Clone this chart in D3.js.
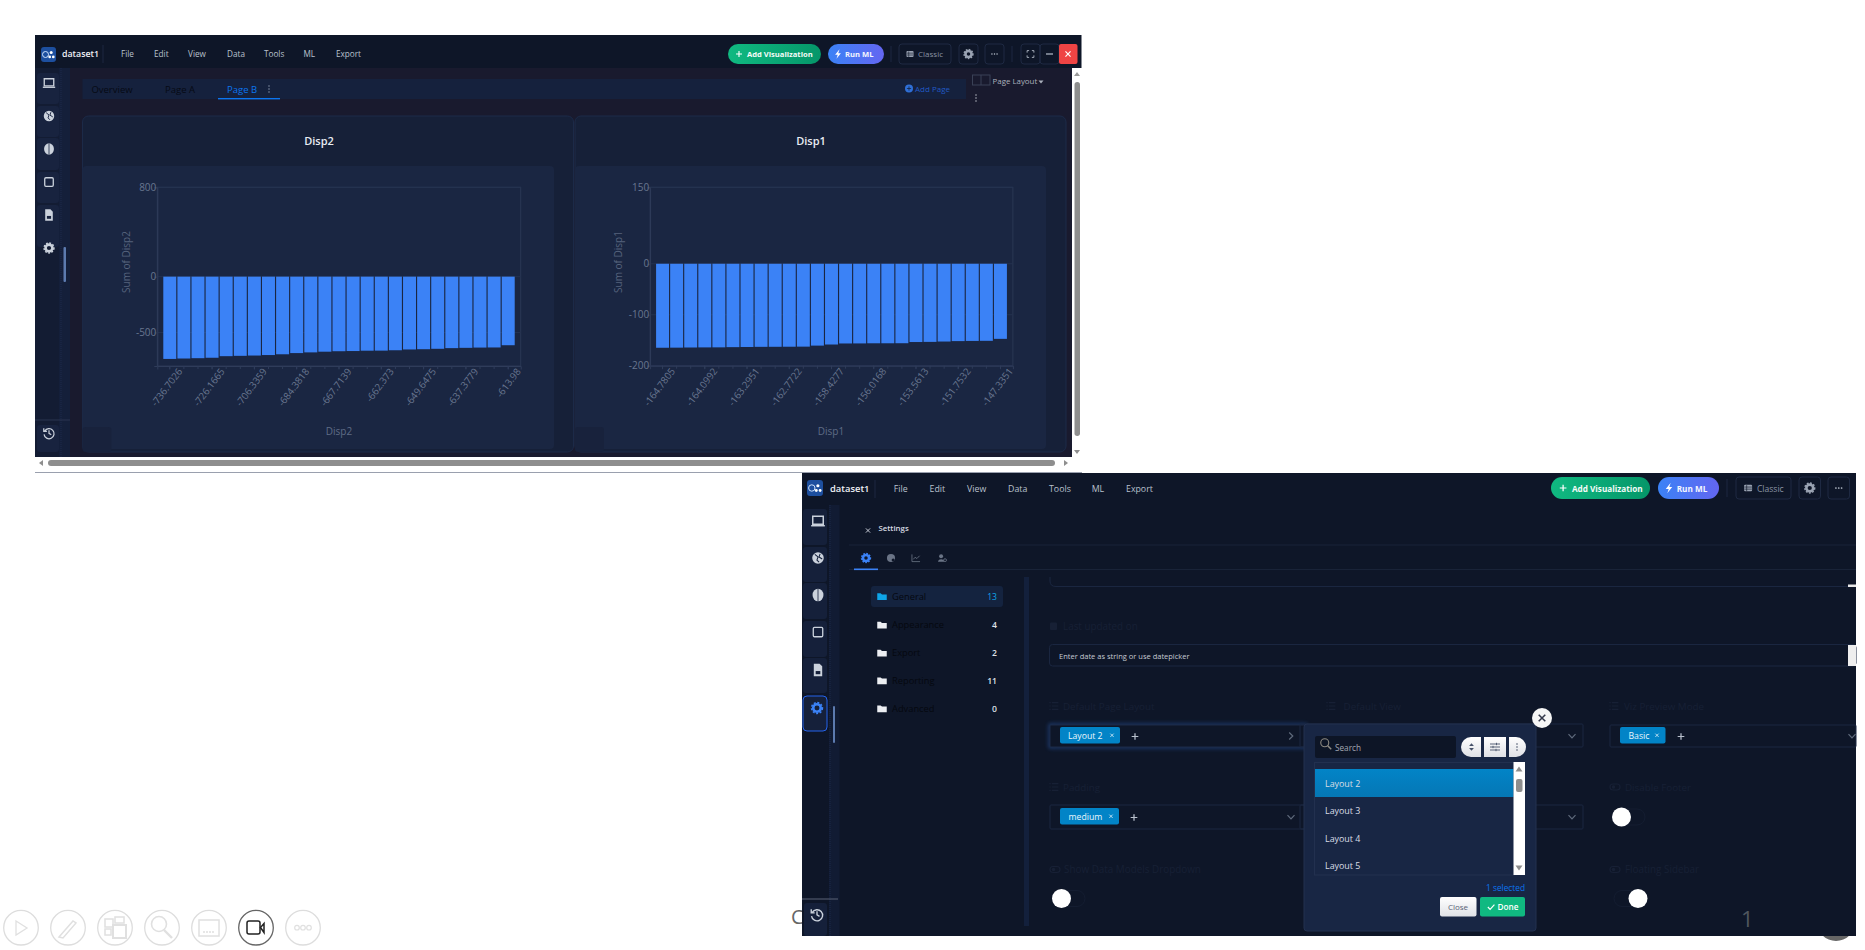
<!DOCTYPE html>
<html>
<head>
<meta charset="utf-8">
<script src="https://cdn.jsdelivr.net/npm/d3@7"></script>
<style>
html,body{margin:0;padding:0;background:#fff;overflow:hidden}
svg{display:block}
text{font-family:"Open Sans","Noto Sans",sans-serif}
</style>
</head>
<body>
<svg id="c" width="1865" height="950"></svg>
<script>
// ---------- chart data (x categories are the values themselves) ----------
const disp2Values = [-736.7026,-733,-730,-726.1665,-712,-709,-706.3359,-702,-695,-684.3818,-678,-672,-667.7139,-666,-663,-662.373,-659,-652,-649.6475,-646,-640,-637.3779,-635,-634,-613.98];
const disp1Values = [-164.7805,-164.6,-164.3,-164.0992,-164,-163.6,-163.2951,-163,-162.9,-162.7722,-162.6,-160.6,-158.4277,-156.4,-156.3,-156.0168,-156,-155.9,-153.5613,-153.3,-152.6,-151.7532,-151.4,-151.2,-147.3351];
const disp2YTicks = [800,0,-500];
const disp1YTicks = [150,0,-100,-200];
const disp2YDomain = [-800,800];
const disp1YDomain = [-200,150];

// ---------- interface text ----------
const menuItems = ["File","Edit","View","Data","Tools","ML","Export"];
const tabs = ["Overview","Page A","Page B"];
const folders = ["General","Appearance","Export","Reporting","Advanced"];
const folderCounts = [13,4,2,11,0];
const layoutOptions = ["Layout 2","Layout 3","Layout 4","Layout 5"];

const svg = d3.select("#c");
const defs = svg.append("defs");
function grad(id,a,b,x2,y2){
  const g=defs.append("linearGradient").attr("id",id).attr("x1",0).attr("y1",0).attr("x2",x2).attr("y2",y2);
  g.append("stop").attr("offset",0).attr("stop-color",a);
  g.append("stop").attr("offset",1).attr("stop-color",b);
}
grad("gGreen","#10b981","#059669",1,0);
grad("gBlue","#3b82f6","#6366f1",1,0);
grad("gSel","#0284c7","#0577b5",0,1);
grad("gWhite","#ffffff","#dfe1e6",0,1);
defs.append("filter").attr("id","glow").attr("x","-5%").attr("y","-30%").attr("width","110%").attr("height","160%")
  .append("feGaussianBlur").attr("stdDeviation",2);

function R(x,y,w,h,fill,o={}){
  return svg.append("rect").attr("x",x).attr("y",y).attr("width",w).attr("height",h).attr("fill",fill)
    .attr("rx",o.r||0).attr("stroke",o.s||"none").attr("stroke-width",o.sw||1);
}
function T(s,x,y,size,fill,o={}){
  return svg.append("text").attr("x",x).attr("y",y).attr("font-size",size).attr("fill",fill)
    .attr("font-weight",o.w||400).attr("text-anchor",o.a||"start").text(s);
}
function P(d,fill,stroke,sw,tx,ty,k){
  return svg.append("path").attr("d",d).attr("fill",fill||"none").attr("stroke",stroke||"none").attr("stroke-width",sw||1)
    .attr("transform",`translate(${tx},${ty}) scale(${k||1})`);
}
function C(x,y,r,fill,stroke,sw){
  return svg.append("circle").attr("cx",x).attr("cy",y).attr("r",r).attr("fill",fill||"none").attr("stroke",stroke||"none").attr("stroke-width",sw||1);
}
function L(x1,y1,x2,y2,col,sw){
  return svg.append("line").attr("x1",x1).attr("y1",y1).attr("x2",x2).attr("y2",y2).attr("stroke",col).attr("stroke-width",sw||1);
}
const ICON="#cbd2dc";
function icon(t,x,y,k,col=ICON,bg="#131c33"){
  if(t==="laptop"){P("M-5,-4.5H5V3H-5Z",null,col,1.4,x,y,k);P("M-6.5,4.5H6.5",null,col,1.4,x,y,k);}
  if(t==="globe"){C(x,y,5.5*k,col);P("M-3,-3.5L0,-1L-1,2L1,4M2,-4L1,-1L4,1",null,bg,1,x,y,k);}
  if(t==="brain"){svg.append("ellipse").attr("cx",x).attr("cy",y).attr("rx",5.2*k).attr("ry",6*k).attr("fill",col);L(x,y-6*k,x,y+6*k,bg,0.8);}
  if(t==="square"){R(x-4.5*k,y-4.5*k,9*k,9*k,"none",{s:col,sw:1.3,r:1.2});}
  if(t==="file"){P("M-4,-6H1.5L4,-3.5V6H-4Z",col,null,0,x,y,k);R(x-2.2*k,y+1*k,4.4*k,3*k,bg);}
  if(t==="gear"){C(x,y,3.6*k,"none",col,2.6);C(x,y,5.2*k,"none",col,1.5).attr("stroke-dasharray",`${1.9*k} ${1.55*k}`);}
  if(t==="history"){P("M-4.5,-2A5.3,5.3 0 1 1 -5.2,1.5M-5.5,-5V-1.6H-2.2M0,-3V0.4L2.4,1.8",null,col,1.3,x,y,k);}
  if(t==="folder"){P("M-5,-3.5H-1.5L0,-2.2H5V3.8H-5Z",col,null,0,x,y,k);}
  if(t==="list"){P("M-2,-3H4M-2,0H4M-2,3H4M-4.2,-3H-3M-4.2,0H-3M-4.2,3H-3",null,col,1.1,x,y,k);}
  if(t==="toggle"){svg.append("rect").attr("x",x-5*k).attr("y",y-3*k).attr("width",10*k).attr("height",6*k).attr("rx",3*k).attr("fill","none").attr("stroke",col).attr("stroke-width",1.2);C(x-1.5*k,y,1.7*k,col);}
  if(t==="cal"){R(x-3.5*k,y-3.5*k,7*k,7.5*k,col,{r:1});}
  if(t==="close"){P("M-3,-3L3,3M3,-3L-3,3",null,col,1.4,x,y,k);}
  if(t==="plus"){P("M-3.5,0H3.5M0,-3.5V3.5",null,col,1.3,x,y,k);}
  if(t==="down"){P("M-3.5,-1.8L0,1.8L3.5,-1.8",null,col,1.2,x,y,k);}
  if(t==="right"){P("M-1.8,-3.5L1.8,0L-1.8,3.5",null,col,1.2,x,y,k);}
  if(t==="dots"){[-3,0,3].forEach(d=>C(x+d*k,y,0.9*k,col));}
  if(t==="vdots"){[-3,0,3].forEach(d=>C(x,y+d*k,0.8*k,col));}
  if(t==="table"){R(x-4.2*k,y-3.5*k,8.4*k,7*k,col,{r:1});P("M-4,-1H4M-4,1.2H4M-1.5,-3V3.5",null,bg,0.7,x,y,k);}
  if(t==="bolt"){P("M1.8,-5.5L-3.4,1H-0.3L-1.8,5.5L3.4,-1H0.3Z",col,null,0,x,y,k);}
  if(t==="full"){P("M-4,-1.6V-4H-1.6M1.6,-4H4V-1.6M4,1.6V4H1.6M-1.6,4H-4V1.6",null,col,1,x,y,k);}
  if(t==="palette"){C(x,y,4.5*k,col);C(x+2.4*k,y+2.2*k,1.7*k,bg);}
  if(t==="chartline"){P("M-4.5,-4V4H4.5M-3,1.5L-1,-0.8L1,0.6L4,-2.5",null,col,0.9,x,y,k);}
  if(t==="user"){C(x-1*k,y-2*k,2.2*k,col);P("M-4.5,4.2C-4,0.5 2,0.5 2.5,4.2Z",col,null,0,x,y,k);C(x+3.4*k,y+2.4*k,1.6*k,"none",col,0.8);}
  if(t==="search"){C(x-1*k,y-1*k,3.2*k,"none",col,1.1);P("M1.4,1.4L4.2,4.2",null,col,1.2,x,y,k);}
  if(t==="sort"){P("M-2.4,-1L0,-3.8L2.4,-1ZM-2.4,1L0,3.8L2.4,1Z",col,null,0,x,y,k);}
  if(t==="sliders"){P("M-5,-3H5M-5,0H5M-5,3H5M1.5,-4.2V-1.8M-2,-1.2V1.2M1,1.8V4.2",null,col,0.9,x,y,k);}
  if(t==="check"){P("M-3.5,0L-1,2.6L3.8,-2.6",null,col,1.3,x,y,k);}
}
function logo(x,y,s){
  R(x,y,s,s,"#1d4f9f",{r:3});
  C(x+s*.3,y+s*.5,s*.2,"none","#cfe3ff",1);
  C(x+s*.68,y+s*.36,s*.1,"#fff");C(x+s*.58,y+s*.66,s*.09,"#fff");C(x+s*.82,y+s*.66,s*.09,"#fff");
}
function header(o){
  logo(o.logoX,o.logoY,o.logoS);
  T("dataset1",o.nameX,o.textY,o.fs+0.6,"#eef1f6",{w:600});
  L(o.sep0,o.textY-12,o.sep0,o.textY+6,"#1c2740");
  menuItems.forEach((m,i)=>T(m,o.menuX[i],o.textY,o.fs,"#b9c1cd"));
  const [ax,aw]=o.add, [rx,rw]=o.run, [cx,cw]=o.classic;
  R(ax,o.by,aw,o.bh,"url(#gGreen)",{r:o.bh/2});
  icon("plus",ax+o.bh*.55,o.by+o.bh/2,o.k,"#fff");
  T("Add Visualization",ax+o.bh*.95,o.textY,o.btnFs,"#f4fbf8",{w:700});
  R(rx,o.by,rw,o.bh,"url(#gBlue)",{r:o.bh/2});
  icon("bolt",rx+o.bh*.5,o.by+o.bh/2,o.k,"#fff","#000");
  T("Run ML",rx+o.bh*.85,o.textY,o.btnFs,"#f4f6ff",{w:700});
  L(o.sep1,o.by+2,o.sep1,o.by+o.bh-2,"#1c2740");
  R(cx,o.by,cw,o.bh,"none",{s:"#1e2942",r:3});
  icon("table",cx+o.bh*.55,o.by+o.bh/2,o.k,"#9aa3b2",o.bg);
  T("Classic",cx+o.bh*.95,o.textY,o.fs-0.2,"#8a93a3");
  R(o.gear,o.by,o.small,o.bh,"none",{s:"#1e2942",r:3});
  icon("gear",o.gear+o.small/2,o.by+o.bh/2,o.k,"#9aa3b2");
  R(o.dots,o.by,o.small,o.bh,"none",{s:"#1e2942",r:3});
  icon("dots",o.dots+o.small/2,o.by+o.bh/2,o.k,"#b9c1cd");
}

// ---------- items behind the windows ----------
[21,68,115,162,209,256,303].forEach((x,i)=>C(x,927.7,17.3,"#fff",i===5?"#666":"#ddd",1.3));
const tb="#e0e0e0";
P("M-5,-7L6,0L-5,7Z",null,tb,1.3,21,928);
P("M-9,9L5,-7L8,-5L-5,10Z",null,tb,1.5,68,928);
R(105,919,8,8,"none",{s:tb,sw:1.5});R(115,917,9,6,"none",{s:tb,sw:1.5});R(105,929,6,6,"none",{s:tb,sw:1.5});R(113,925,13,13,"none",{s:tb,sw:2});
C(159,924,7.5,"none",tb,1.6);L(164,930,172,938,tb,2.4);
R(199,920,20,16,"none",{s:tb,sw:1.5});P("M-6,4H6",null,tb,1.5,209,928).attr("stroke-dasharray","2 1");
R(247,921,13,13,"none",{s:"#222",sw:1.5,r:2});P("M6,-4L2.5,0L6,5Z","none","#222",1.5,258,927.5);
[297,303,309].forEach(x=>C(x,927.7,2.3,"none",tb,1.2));
T("C",791,924,20,"#666");
C(1836,922,19,"#666");

// ---------- top window ----------
R(35,35,1046.5,33,"#0e1628");
R(35,68,1037,389,"#191a2e");
R(1072,68,9.5,389,"#fff");
L(35,472.5,1082,472.5,"#9aa0ae",1);
// scrollbars
R(1074.5,82,5.5,354,"#8e8e8e",{r:2.7});
P("M-3,2L0,-2L3,2Z","#9a9a9a",null,0,1077,74);
P("M-3,-2L0,2L3,-2Z","#8e8e8e",null,0,1077,452);
R(48,460,1007,6,"#8e8e8e",{r:3});
P("M-2,-3L2,0L-2,3Z","#8e8e8e",null,0,1066,463);
P("M2,-3L-2,0L2,3Z","#8e8e8e",null,0,41,463);
header({logoX:41,logoY:47,logoS:15,nameX:62,textY:57,fs:8.2,btnFs:7.6,sep0:103,
  menuX:[121,154,188,227,264,303.5,336],add:[728,93],run:[828,56],classic:[899,52],by:44,bh:20,
  sep1:891,gear:959,dots:985,small:19,k:0.85,bg:"#0e1628"});
L(1012,46,1012,62,"#1c2740");
R(1021,44,19,20,"none",{s:"#1e2942",r:3});icon("full",1030.5,54,0.85,"#b9c1cd");
R(1040,44,19,20,"none",{s:"#1e2942",r:3});L(1046,54,1053,54,"#b9c1cd",1.2);
R(1059,44,18.5,20,"#ef4444",{r:2});icon("close",1068,54,0.85,"#fff");

// sidebar of the top window
R(35,68,24,389,"#131c33");
R(59,68,11,389,"#141f3a");
L(61,68,61,457,"#1e2d50",0.8).attr("stroke-dasharray","1 1");
[[73,31,"laptop",83],[106,31,"globe",116],[138,32,"brain",149],[172,31,"square",182],[205,42,"file",215]].forEach(d=>{
  R(37,d[0],22,d[1],"#18233f",{r:3});icon(d[2],49,d[3],0.95,ICON,"#18233f");
});
icon("gear",49,248,0.95);
R(63.5,247,2.5,35,"#5c7bb0",{r:1});
L(35,420,70,420,"#2a3550");
R(37,425,22,27,"#18233f",{r:3});icon("history",49,433,0.95);

// tab bar
R(82.5,79,883.5,20,"#15213d");
[[91.4,0],[165,1],[227,2]].forEach(([x,i])=>T(tabs[i],x,92.5,9.5,i===2?"#0b75f0":"#060a14"));
icon("vdots",269,89,1,"#7f8ba0");
R(218,98,62,1.4,"#0b75f0");
C(909,88.5,4,"#2f6fd6");icon("plus",909,88.5,0.6,"#15213d");
T("Add Page",915,92,8,"#2159c4");
R(972.5,75,17.5,10,"none",{s:"#3a4156"});L(981,75,981,85,"#3a4156");
T("Page Layout",992.5,84,7.9,"#aab0bc");
P("M-2.5,-1.5H2.5L0,1.5Z","#aab0bc",null,0,1041,82);
icon("vdots",976,98,1,"#aab0bc");

// dashboard cards
function drawCard(cfg){
  R(cfg.card[0],116,cfg.card[1],336,"#162038",{r:6,s:"#1c2a48"});
  R(cfg.panel[0],166,cfg.panel[1],283,"#1a2642",{r:4});
  R(cfg.panel[0],427,29,25,"#18223c",{r:3});
  T(cfg.title,cfg.titleX,145,11,"#e9edf3",{w:600,a:"middle"});

  const g=svg.append("g");
  const [px0,px1]=cfg.px, [py0,py1]=cfg.py;
  const cats=cfg.values.map(String);
  const x=d3.scaleBand().domain(cats).range([px0,px1]).paddingInner(0.08).paddingOuter(0.425);
  const y=d3.scaleLinear().domain(cfg.yDomain).range([py1,py0]);

  // frame and faint lines
  g.append("rect").attr("x",px0).attr("y",py0).attr("width",px1-px0).attr("height",py1-py0)
    .attr("fill","none").attr("stroke","#2a3754").attr("stroke-width",1);
  g.selectAll("line.grid").data(cfg.yTicks).join("line").attr("class","grid")
    .attr("x1",px0).attr("x2",px1).attr("y1",d=>y(d)).attr("y2",d=>y(d)).attr("stroke","#25324f");

  // bars
  g.selectAll("rect.bar").data(cfg.values).join("rect").attr("class","bar")
    .attr("x",d=>x(String(d))).attr("width",x.bandwidth())
    .attr("y",y(0)).attr("height",d=>y(d)-y(0)).attr("fill","#3b82f6");

  // axes
  const yAxis=d3.axisLeft(y).tickValues(cfg.yTicks).tickSize(3).tickPadding(-2).tickFormat(d=>String(d));
  const ya=g.append("g").attr("transform",`translate(${px0},0)`).call(yAxis);
  const xAxis=d3.axisBottom(x).tickValues(cats.filter((d,i)=>i%3===0)).tickSize(3.5).tickPadding(3);
  const xa=g.append("g").attr("transform",`translate(0,${py1})`).call(xAxis);
  // minor tick for every bar
  g.append("g").selectAll("line").data(cats).join("line")
    .attr("x1",d=>x(d)+x.bandwidth()/2).attr("x2",d=>x(d)+x.bandwidth()/2)
    .attr("y1",py1).attr("y2",py1+3).attr("stroke","#2f3c5a");
  [ya,xa].forEach(a=>{
    a.selectAll(".domain").attr("stroke","#2f3c5a");
    a.selectAll(".tick line").attr("stroke","#2f3c5a");
    a.selectAll("text").attr("fill","#697690").attr("font-size",a===xa?9.7:10).attr("font-family",'"Open Sans","Noto Sans",sans-serif');
  });
  xa.selectAll(".tick text").attr("text-anchor","end").attr("dx","0.35em").attr("dy","0.75em")
    .attr("transform","rotate(-53)");
  svg.append("text").attr("transform",`translate(${cfg.ylX},262) rotate(-90)`).attr("text-anchor","middle")
    .attr("font-size",10).attr("fill","#56637d").text(cfg.yLabel);
  T(cfg.title,cfg.xlX,435,10,"#5f6c86",{a:"middle"});
}
drawCard({card:[82.5,491],panel:[82.5,471.5],title:"Disp2",titleX:319,values:disp2Values,yTicks:disp2YTicks,yDomain:disp2YDomain,
  px:[157.3,520.7],py:[187.3,366],ylX:130,xlX:339,yLabel:"Sum of Disp2"});
drawCard({card:[575,491],panel:[575,471],title:"Disp1",titleX:811,values:disp1Values,yTicks:disp1YTicks,yDomain:disp1YDomain,
  px:[650.1,1012.9],py:[187.3,365.7],ylX:622,xlX:831,yLabel:"Sum of Disp1"});

// ---------- bottom window ----------
const BG="#0e1628";
R(802,473,1054,463,BG);
header({logoX:807,logoY:480,logoS:16,nameX:830,textY:492,fs:8.8,btnFs:8.2,sep0:875,
  menuX:[893.7,929.5,967,1008,1049,1091.7,1126],add:[1551,99],run:[1658,61],classic:[1736,55],by:477,bh:22,
  sep1:1727,gear:1799,dots:1828,small:21.5,k:0.95,bg:BG});
// sidebar
R(829,505,10.5,431,"#111b33");
L(830,505,830,936,"#1e2d50",0.8).attr("stroke-dasharray","1 1");
[[509,36,"laptop",521],[547,35,"globe",558],[583,36,"brain",595],[621,36,"square",632],[658,35,"file",670]].forEach(d=>{
  R(803,d[0],24,d[1],"#15203a",{r:3});icon(d[2],818,d[3],1.05,ICON,"#15203a");
});
R(803,696,24,35,"#15203a",{r:4,s:"#2563eb"});icon("gear",817,708,1.05,"#3b82f6");
R(833,706,2,37,"#5c7bb0",{r:1});
L(802,899,838,899,"#5a6376");
R(804,903,23,33,"#15203a",{r:3});icon("history",817,914.5,1.05,ICON);

// settings header
icon("close",868,530.5,0.7,"#c7ccd6");
T("Settings",878.5,531,7.8,"#d8dce3",{w:600});
L(849,545,1856,545,"#192338");
icon("gear",866,558,0.85,"#3b82f6");
icon("palette",891,558,0.9,"#6a7486",BG);
icon("chartline",916,558,0.9,"#6a7486",BG);
icon("user",942,558,0.9,"#6a7486",BG);
L(849,569.5,1856,569.5,"#192338");
R(854,568.5,24,1.6,"#3b82f6");
R(1024,577,5,349,"#13203c");

// folder list
R(871,586,132,21,"#14233f",{r:3});
folders.forEach((f,i)=>{
  const yy=[596.5,625,653,680.7,708.7][i];
  icon("folder",882,yy,0.95,i===0?"#0ea5e9":"#eceef2");
  T(f,892,yy+3.3,9.3,"#05080f");
  T(folderCounts[i],997,yy+3.3,8.6,i===0?"#0ea5e9":"#dfe3e9",{a:"end",w:i===0?400:600});
});

// fields
svg.append("path").attr("d","M1050,577V581Q1050,586.5 1056,586.5H1856").attr("fill","none").attr("stroke","#1a2640");
R(1848,584.5,8,2.5,"#e8e8e8");
icon("cal",1053.5,626,1,"#172035");
T("Last updated on",1063,629.5,9.9,"#172035");
R(1049.5,644.5,806.5,21.5,"none",{s:"#1a2640",r:3});
T("Enter date as string or use datepicker",1059,658.5,7.5,"#c5cad3");
R(1848,645,8,21,"#eeeeee");
const faint="#172035";
[["Default Page Layout",1063,1054],["Default View",1343.6,1331],["Viz Preview Mode",1624,1614]].forEach(d=>{
  icon("list",d[2],706,1.1,faint);T(d[0],d[1],709.5,9.8,faint);
});
icon("list",1054,787,1.1,faint);T("Padding",1063,790.5,9.8,faint);
icon("toggle",1055,869.5,1,faint);T("Show Data Models Dropdown",1064,873,9.9,faint);
icon("toggle",1615,787,1,faint);T("Disable Footer",1625,790.5,9.8,faint);
icon("toggle",1615,869.5,1,faint);T("Floating Sidebar",1625,873,9.9,faint);

// selects
R(1050,725,256,22,"none",{s:"#3b82f6",sw:2}).attr("filter","url(#glow)").attr("opacity",.55);
R(1050,725,256,22,BG,{s:"#1c2b49",r:1});
R(1050,805,256,24,"none",{s:"#1a2640",r:1});
R(1300,724,283,23,"none",{s:"#1a2640",r:1});
R(1300,805,283,24,"none",{s:"#1a2640",r:1});
R(1610,725,246,22,"none",{s:"#1a2640",r:1});
function tag(x,y,w,s,tx,cx,px){
  R(x,y,w,16.5,"#0284c7",{r:2});
  T(s,tx,y+11.5,8.7,"#eaf6fc");
  icon("close",cx,y+8.3,0.55,"#eaf6fc");
  icon("plus",px,y+9.5,0.95,"#b9c1cd");
}
tag(1060,727,60,"Layout 2",1068,1112,1135);
tag(1060,808,59,"medium",1068.5,1111,1134);
tag(1620,727,45.5,"Basic",1628.5,1657,1681);
icon("right",1291,736,1,"#5f6a7c");
icon("down",1291,817,1,"#5f6a7c");
icon("down",1572,736,1,"#5f6a7c");
icon("down",1572,817,1,"#5f6a7c");
icon("down",1852,736,1,"#5f6a7c");

// toggles
[[1053,1085,1061.5],[1614,1645,1621.5]].forEach((d,i)=>{
  const yy=i===0?898.5:817;
  R(d[0],yy-8,d[1]-d[0],16,"none",{s:"#141d31",r:8});
  C(d[2],yy,9.5,"#fff");
});
R(1614,890.5,31,16,"none",{s:"#141d31",r:8});C(1638,898.5,9.5,"#fff");

T("1",1741,927,22,"#50565f");

// popup
R(1304,724,232,207,"#182644",{r:3,s:"#22304f"});
C(1542,718,10,"#f5f5f5");icon("close",1542,718,1.1,"#33384a");
R(1315,736,141,22,"#0d1526",{r:2});
icon("search",1326,744,1.25,"#8d8a82");
T("Search",1335,751,8.2,"#a3a8b2");
svg.append("path").attr("d","M1481,737H1471A10,10 0 0 0 1471,757H1481Z").attr("fill","url(#gWhite)");
icon("sort",1471.5,747,1,"#47526a");
R(1484,737,22,20,"url(#gWhite)");icon("sliders",1495,747,1,"#47526a");
svg.append("path").attr("d","M1509,737H1516A10,10 0 0 1 1516,757H1509Z").attr("fill","url(#gWhite)");
icon("vdots",1517,747,1,"#47526a");
R(1314.5,762.5,200,112.5,"none",{s:"#22304f"});
R(1315,769,198.5,28,"url(#gSel)");
layoutOptions.forEach((s,i)=>T(s,1325,[786.5,814,841.5,869][i],8.9,"#d9dde4"));
R(1513.5,762,11.5,113,"#fff");
P("M-3.5,2.5L0,-2.5L3.5,2.5Z","#8e8e8e",null,0,1519,769);
P("M-3.5,-2.5L0,2.5L3.5,-2.5Z","#8e8e8e",null,0,1519,868);
R(1516,779,6.5,13,"#8e8e8e",{r:2});
T("1 selected",1525,891,8.3,"#0b75f0",{a:"end"});
R(1440,897,36.5,19.5,"url(#gWhite)",{r:2});
T("Close",1458,910,8,"#5a6376",{a:"middle"});
R(1480,897,45,19.5,"#10b981",{r:2});
icon("check",1491,907,0.9,"#fff");
T("Done",1497.5,910,8.2,"#fff",{w:600});
</script>
</body>
</html>
